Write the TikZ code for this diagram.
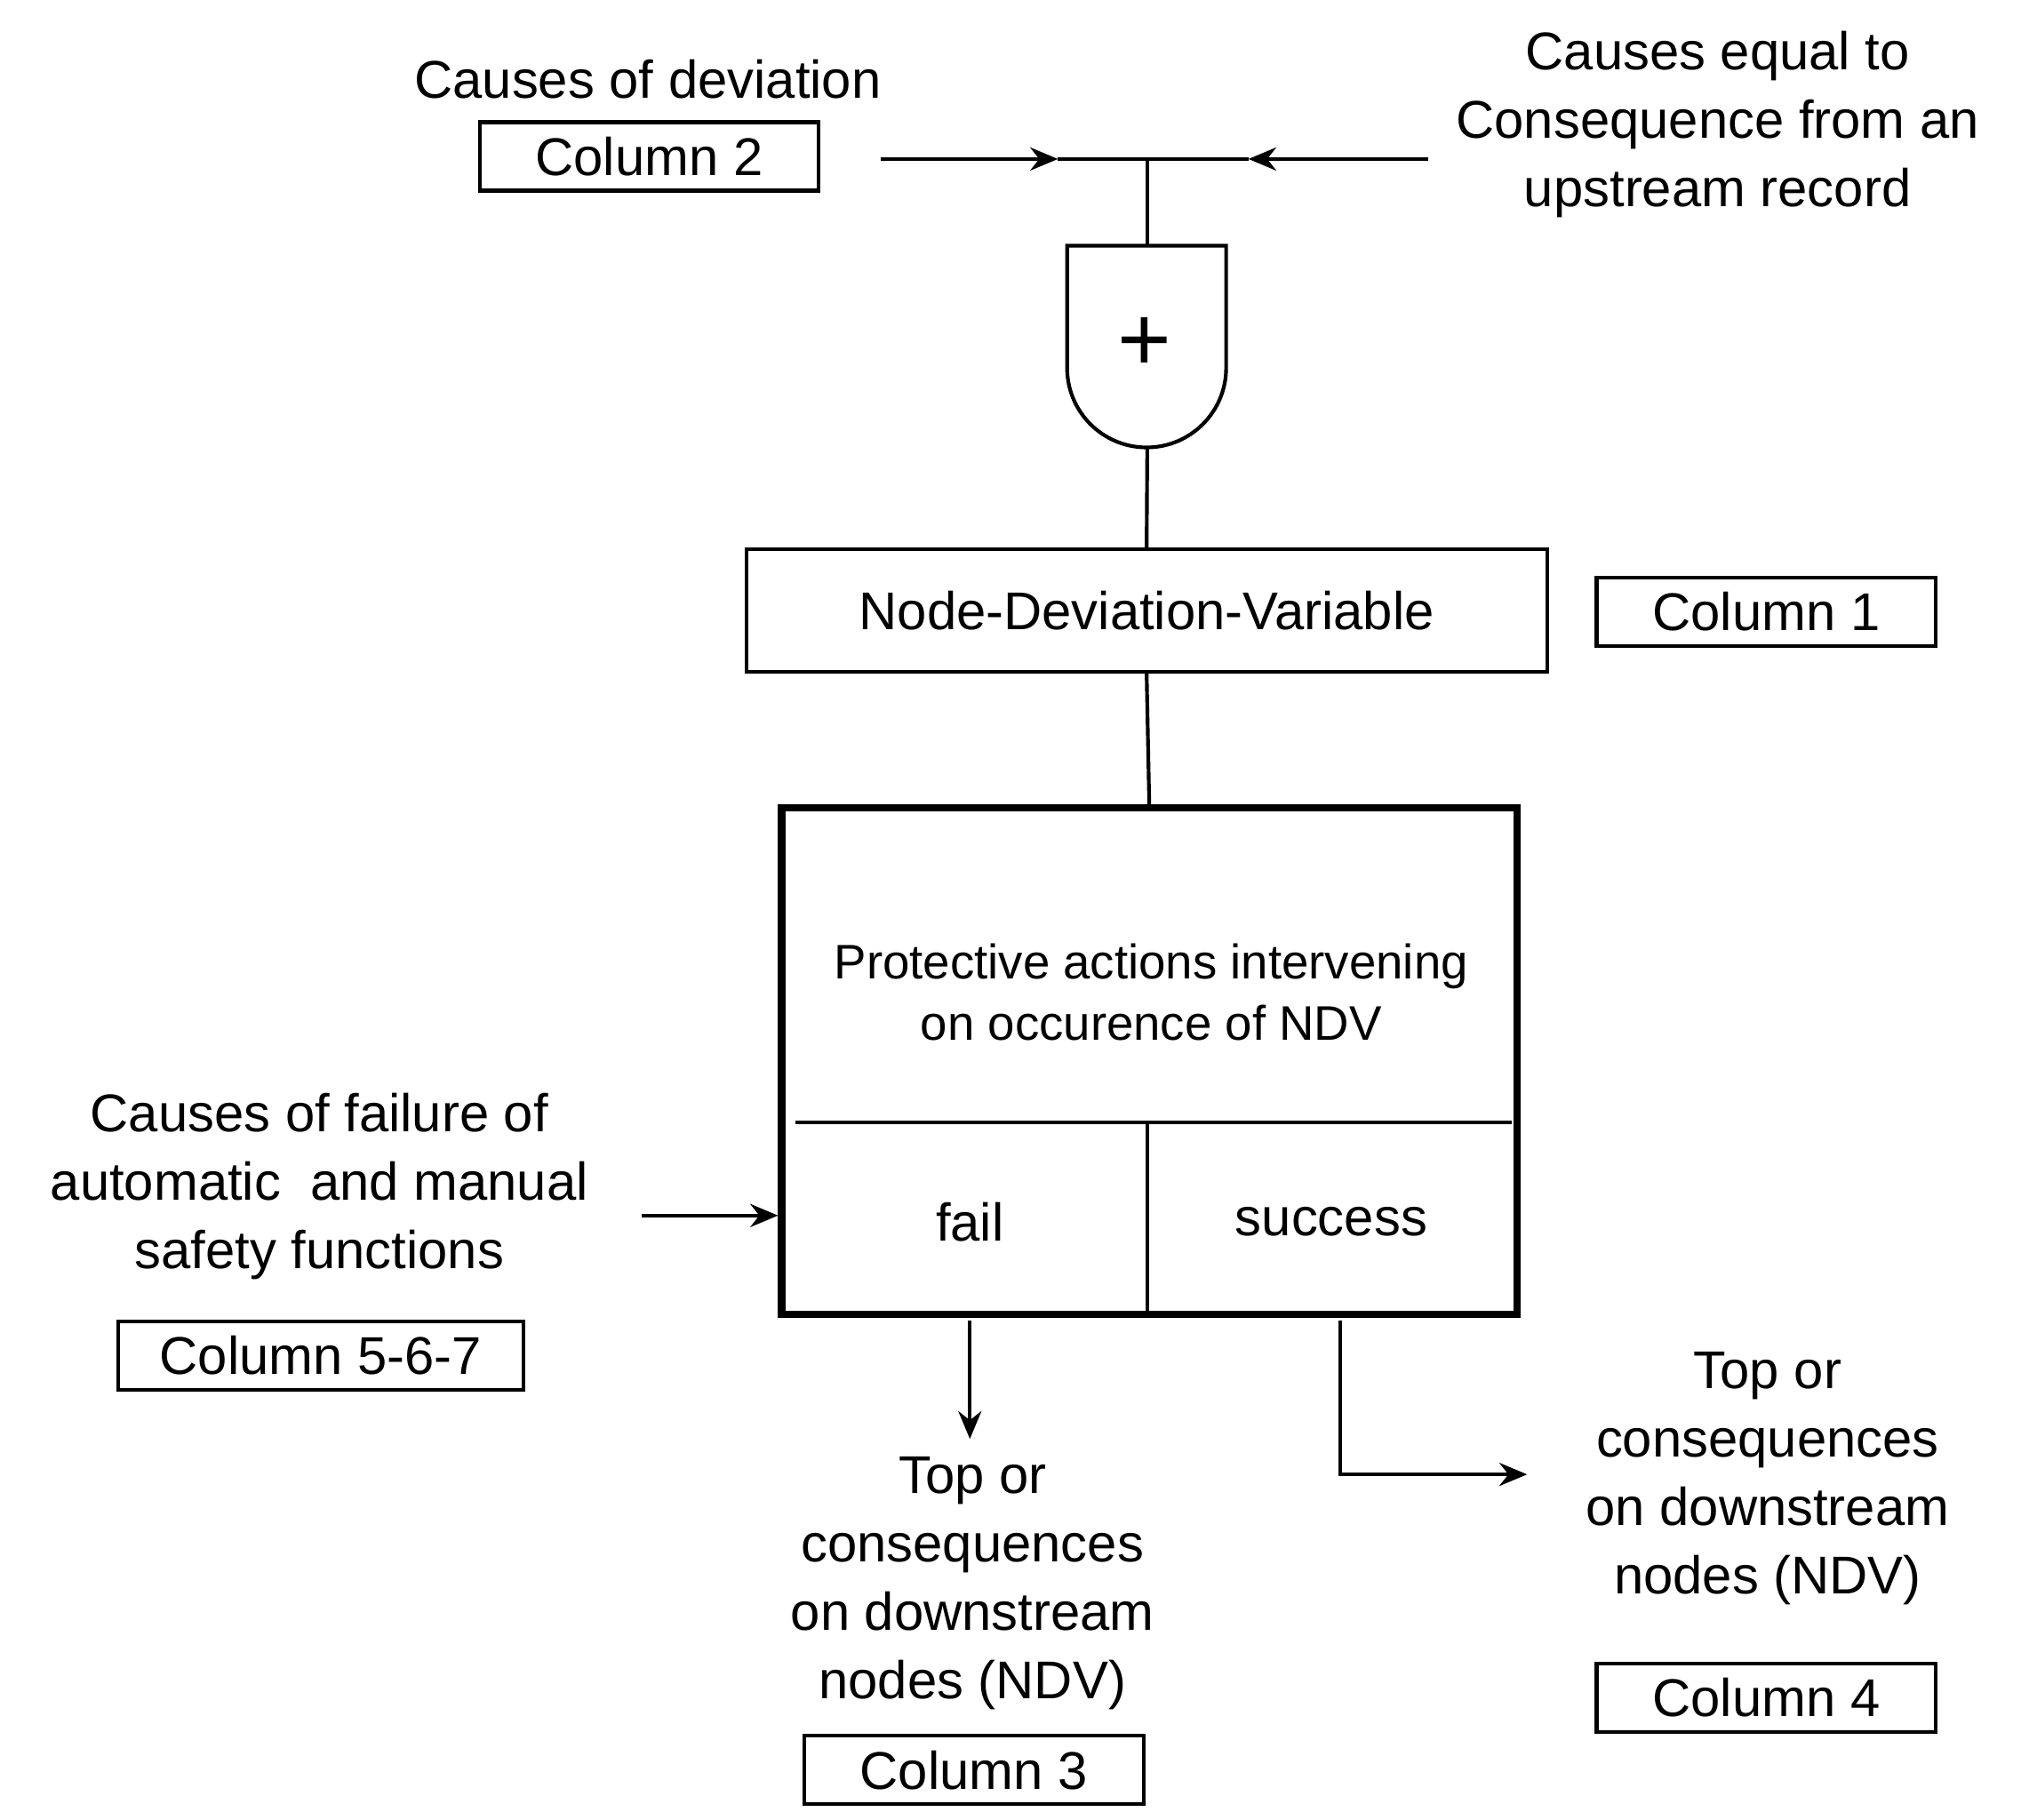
\documentclass[tikz,border=0pt]{standalone}
\usepackage{fontspec}
\setmainfont{Liberation Sans}
\usetikzlibrary{arrows.meta,positioning}
\tikzset{col/.style={draw, thick, minimum width=2.58cm, minimum height=0.52cm, inner sep=0pt, font=\fontsize{11.5}{14.8}\selectfont},
  lbl/.style={align=center, font=\fontsize{11.5}{14.8}\selectfont},
  arr/.style={-{Stealth[length=6pt,width=5pt]}}}
\begin{document}
\begin{tikzpicture}[x=0.01cm, y=-0.01cm, thick]
    \useasboundingbox (0,0) rectangle (1550,1385);
    \node[lbl] (dev) at (493,60) {Causes of deviation};
    \node[col] (c2) at (494,119) {Column 2};
    \node[lbl] (up) at (1307,95) {Causes equal to\\Consequence from an\\upstream record};
    \coordinate (j) at (873,121);
    \coordinate (l) at (670,121);
    \coordinate (r) at (1087,121);
    \draw[arr] (l) -- (805,121);
    \draw (805,121) -- (j);
    \draw[arr] (r) -- (950,121);
    \draw (950,121) -- (j);
    % OR gate
    \draw (812,187) coordinate (gtl) -- (933,187) -- (933,280) arc (0:180:60.5) -- cycle;
    \node[font=\fontsize{20}{20}\selectfont] (plus) at (871,262) {+};
    \draw (j) -- (873,187);
    \node[draw, thick, minimum width=6.09cm, minimum height=0.93cm, lbl] (ndv) at (872.5,464.5) {Node-Deviation-Variable};
    \draw (873,340) -- (ndv.north);
    \node[col] (c1) at (1344,465.5) {Column 1};
    % protective box
    \node[draw, line width=1.6pt, minimum width=5.59cm, minimum height=3.85cm, inner sep=0pt] (prot) at (874.5,807.5) {};
    \draw (ndv.south) -- (prot.north);
    \draw (605,854) -- (1150,854);
    \draw (873,854) -- (873,1000);
    \node[lbl, font=\fontsize{10.5}{13.3}\selectfont] (pa) at (876,755) {Protective actions intervening\\on occurence of NDV};
    \node[lbl] (fail) at (738,930) {fail};
    \node[lbl] (succ) at (1013,930) {success};
    \node[lbl] (fsf) at (243,903) {Causes of failure of\\automatic\ \ and manual\\safety functions};
    \coordinate (fa) at (488,925);
    \draw[arr] (fa) -- (prot.west |- fa);
    \node[col, minimum width=3.08cm] (c567) at (244,1031.5) {Column 5-6-7};
    \node[lbl] (down3) at (740,1205) {Top or\\consequences\\on downstream\\nodes (NDV)};
    \node[col] (c3) at (741,1347) {Column 3};
    \draw[arr] (738,1005) -- (738,1095);
    \node[lbl] (down4) at (1345,1125) {Top or\\consequences\\on downstream\\nodes (NDV)};
    \node[col] (c4) at (1344,1292) {Column 4};
    \draw[arr] (1020,1005) -- (1020,1122) -- (1162,1122);
\end{tikzpicture}
\end{document}
